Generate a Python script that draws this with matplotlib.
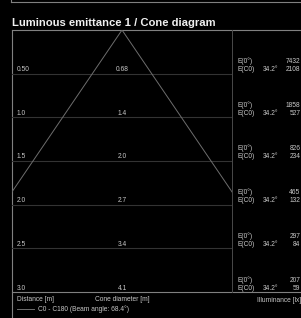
import numpy as np
import matplotlib
matplotlib.use("Agg")
import matplotlib.pyplot as plt
from matplotlib.transforms import blended_transform_factory, offset_copy

# ---- data ----
title = "Luminous emittance 1 / Cone diagram"
distances = [0.5, 1.0, 1.5, 2.0, 2.5, 3.0]
distance_labels = ["0.50", "1.0", "1.5", "2.0", "2.5", "3.0"]
cone_diameter_labels = ["0.68", "1.4", "2.0", "2.7", "3.4", "4.1"]
e0_values = [7432, 1858, 826, 465, 297, 207]
ec0_values = [2108, 527, 234, 132, 84, 59]
half_angle_label = "34.2°"
beam_angle = 68.4
legend_label = "C0 - C180 (Beam angle: 68.4°)"

W, H = 301, 318
DPI = 100
fig = plt.figure(figsize=(W / DPI, H / DPI), dpi=DPI, facecolor="black")
plt.rcParams["font.family"] = ["Liberation Sans", "DejaVu Sans"]

def fx(px):
    return px / W

def fy(py):
    return 1 - py / H

# overlay axes in pixel coordinates for frame decoration
ov = fig.add_axes([0, 0, 1, 1])
ov.set_xlim(0, W)
ov.set_ylim(H, 0)
ov.axis("off")
ov.patch.set_alpha(0)

frame_c = "#808080"
grid_c = "#333333"
text_c = "#c8c8c8"
ft = 4.8

# previous panel bottom edge
ov.plot([11, W], [2, 2], color=frame_c, lw=0.8)
ov.plot([11, 11], [0, 2], color=frame_c, lw=0.8)

# main frame
ov.plot([12, W], [30, 30], color=frame_c, lw=0.8)
ov.plot([12, 12], [30, H], color=frame_c, lw=0.8)
ov.plot([12, W], [292, 292], color=frame_c, lw=0.8)
ov.plot([232, 232], [30, 292], color="#4a4a4a", lw=0.7)

# title
fig.text(fx(12), fy(25.5), title, color="#f0f0f0", fontsize=8.1,
         fontweight="bold", ha="left", va="baseline")

# cone axes
x0, x1, y0, y1 = 12, 232, 30, 292
ax = fig.add_axes([fx(x0), fy(y1), (x1 - x0) / W, (y1 - y0) / H])
ax.set_facecolor("none")
maxd = distances[-1]
half_w = (x1 - x0) / 2 / ((y1 - y0) / maxd)
ax.set_xlim(-half_w, half_w)
ax.set_ylim(maxd, 0)
ax.axis("off")

for d in distances[:-1]:
    ax.axhline(d, color=grid_c, lw=0.8)

ha = np.radians(beam_angle / 2)
ax.plot([0, -np.tan(ha) * maxd], [0, maxd], color="#6e6e6e", lw=0.7, clip_on=True)
ax.plot([0, np.tan(ha) * maxd], [0, maxd], color="#6e6e6e", lw=0.7, clip_on=True)

for d, dl, cl in zip(distances, distance_labels, cone_diameter_labels):
    t = offset_copy(ax.transData, fig=fig, x=0, y=2.5, units="dots")
    tb = blended_transform_factory(fig.transFigure, ax.transData)
    tb = offset_copy(tb, fig=fig, x=0, y=2.5, units="dots")
    ax.text(fx(17), d, dl, transform=tb, color=text_c, fontsize=ft,
            ha="left", va="baseline")
    ax.text(0, d, cl, transform=t, color=text_c, fontsize=ft,
            ha="center", va="baseline")

for d, e0, ec in zip(distances, e0_values, ec0_values):
    tb = blended_transform_factory(fig.transFigure, ax.transData)
    t1 = offset_copy(tb, fig=fig, x=0, y=10.5, units="dots")
    t2 = offset_copy(tb, fig=fig, x=0, y=2.5, units="dots")
    fig.text(fx(237), d, "E(0°)", transform=t1, color=text_c, fontsize=ft,
             ha="left", va="baseline")
    fig.text(fx(237), d, "E(C0)", transform=t2, color=text_c, fontsize=ft,
             ha="left", va="baseline")
    fig.text(fx(263), d, half_angle_label, transform=t2, color=text_c,
             fontsize=ft, ha="left", va="baseline")
    fig.text(fx(300.5), d, f"{e0}", transform=t1, color=text_c, fontsize=ft,
             ha="right", va="baseline")
    fig.text(fx(300.5), d, f"{ec}", transform=t2, color=text_c, fontsize=ft,
             ha="right", va="baseline")

# footer labels
fig.text(fx(17), fy(301), "Distance [m]", color=text_c, fontsize=ft,
         ha="left", va="baseline")
fig.text(fx(122), fy(301), "Cone diameter [m]", color=text_c, fontsize=ft,
         ha="center", va="baseline")
fig.text(fx(257), fy(302), "Illuminance [lx]", color=text_c, fontsize=ft,
         ha="left", va="baseline")

# legend
ov.plot([17, 34], [309, 309], color="#6e6e6e", lw=0.7)
fig.text(fx(38), fy(311), legend_label, color=text_c, fontsize=ft,
         ha="left", va="baseline")

fig.savefig("out.png", dpi=DPI, facecolor="black")
